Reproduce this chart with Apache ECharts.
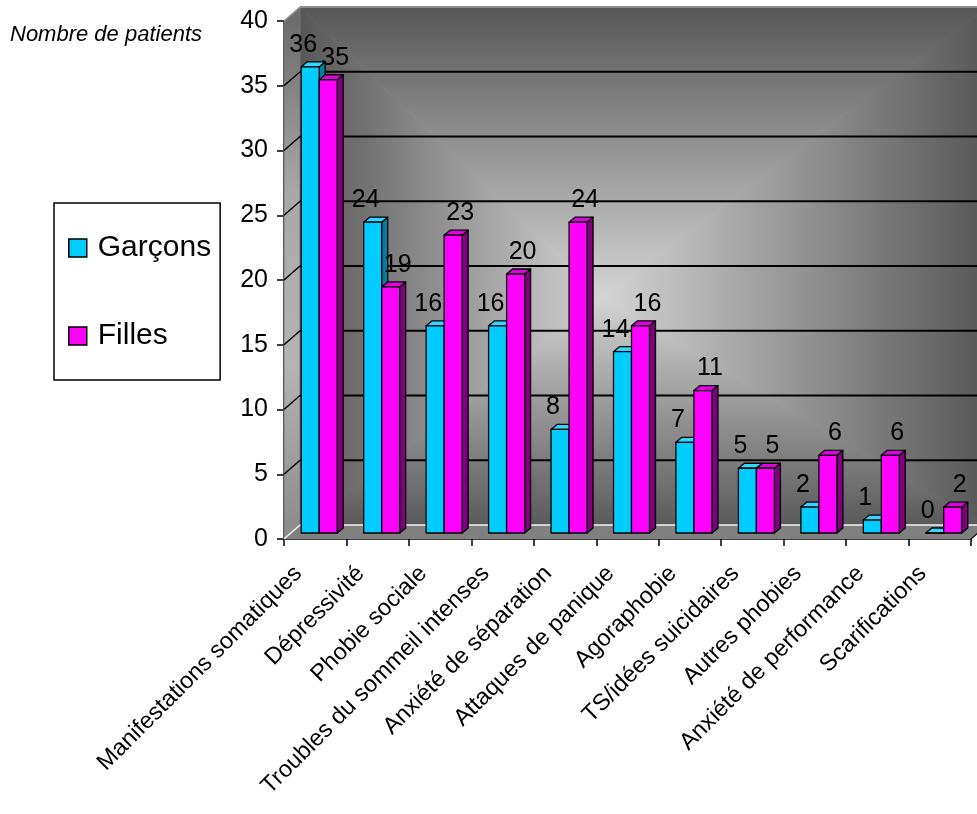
<!DOCTYPE html>
<html>
<head>
<meta charset="utf-8">
<title>Nombre de patients</title>
<script src="https://cdn.jsdelivr.net/npm/echarts@6/dist/echarts.min.js"></script>
<style>
  html, body { margin: 0; padding: 0; background: #fff; }
  #chart { width: 977px; height: 814px; }
</style>
</head>
<body>
<div id="chart"></div>
<script>
// Categories and counts per group
const categories = [
  'Manifestations somatiques', 'Dépressivité', 'Phobie sociale',
  'Troubles du sommeil intenses', 'Anxiété de séparation', 'Attaques de panique',
  'Agoraphobie', 'TS/idées suicidaires', 'Autres phobies',
  'Anxiété de performance', 'Scarifications'
];
const garcons = [36, 24, 16, 16, 8, 14, 7, 5, 2, 1, 0];
const filles = [35, 19, 23, 20, 24, 16, 11, 5, 6, 6, 2];
const yTicks = [0, 5, 10, 15, 20, 25, 30, 35, 40];
const seriesNames = ['Garçons', 'Filles'];

const FONT = '"Liberation Sans", Arial, sans-serif';

// Pseudo-3D geometry (pixels)
const WALL_DX = 16, WALL_DY = -14;   // back wall offset from the front plane
const BAR_DX = 4, BAR_DY = -6;       // bar front face offset from the front plane
const BAR_W = 18;                    // width of one bar face
const BAR_DEPTH_X = 6, BAR_DEPTH_Y = -5;

const COLORS = {
  garcons: { front: '#00ccff', top: '#33d6ff', side: '#007f9f' },
  filles: { front: '#ff00ff', top: '#e000e0', side: '#800080' }
};

function lin(x, y, x2, y2, stops) {
  return { type: 'linear', x: x, y: y, x2: x2, y2: y2, global: true,
    colorStops: stops.map(function (c, i) { return { offset: i / (stops.length - 1), color: c }; }) };
}

// Walls, floor and gridlines of the 3D box
function renderWalls(params, api) {
  const cs = params.coordSys;
  const x0 = cs.x, x1 = cs.x + cs.width, yT = cs.y, yB = cs.y + cs.height;
  const bx0 = x0 + WALL_DX, bx1 = x1 + WALL_DX, byT = yT + WALL_DY, byB = yB + WALL_DY;
  const cx = bx0 + 0.44 * (bx1 - bx0);
  const cy = byT + 0.56 * (byB - byT);
  const edge = '#575757', mid = '#d4d4d4';
  const children = [];
  const tri = function (pts, grad) {
    children.push({ type: 'polygon', shape: { points: pts },
      style: { fill: grad, stroke: grad, lineWidth: 1 } });
  };
  // back wall: gradient radiating from the centre toward each edge
  tri([[bx0, byT], [bx1, byT], [cx, cy]], lin(cx, byT, cx, cy, [edge, mid]));
  tri([[bx0, byB], [bx1, byB], [cx, cy]], lin(cx, byB, cx, cy, ['#5a5a5a', mid]));
  tri([[bx0, byT], [bx0, byB], [cx, cy]], lin(bx0, cy, cx, cy, [edge, mid]));
  tri([[bx1, byT], [bx1, byB], [cx, cy]], lin(bx1, cy, cx, cy, [edge, mid]));
  // left side wall
  children.push({ type: 'polygon', shape: { points: [[x0, yT], [bx0, byT], [bx0, byB], [x0, yB]] },
    style: { fill: lin(0, yT, 0, yB, ['#6c6c6c', '#a8a8a8', '#b4b4b4', '#8a8a8a']), stroke: '#777', lineWidth: 1 } });
  // floor
  children.push({ type: 'polygon', shape: { points: [[x0, yB], [bx0, byB], [bx1, byB], [x1, yB]] },
    style: { fill: '#808080' } });
  children.push({ type: 'line', shape: { x1: x1, y1: yB, x2: x1 + WALL_DX, y2: yB + WALL_DY },
    style: { stroke: '#000', lineWidth: 1.2 } });
  // gridlines on back wall and side wall
  yTicks.forEach(function (v) {
    const y = api.coord([0, v])[1];
    let col = '#000', w = 2;
    if (v === 0) { col = '#f4f4f4'; w = 1.5; }
    if (v === yTicks[yTicks.length - 1]) { col = '#8c8c8c'; w = 2; }
    children.push({ type: 'line', shape: { x1: bx0, y1: y + WALL_DY, x2: bx1, y2: y + WALL_DY },
      style: { stroke: col, lineWidth: w } });
    children.push({ type: 'line', shape: { x1: x0, y1: y, x2: bx0, y2: y + WALL_DY },
      style: { stroke: v === 0 ? '#f4f4f4' : (v === 40 ? '#9a9a9a' : '#000'), lineWidth: 1.5 } });
  });
  return { type: 'group', children: children };
}

// 3D bar: front face, top face, side face and value label
function barRenderer(side, col, labelShift) {
  return function (params, api) {
    const cat = api.value(0), val = api.value(1);
    const base = api.coord([cat, 0]);
    const top = api.coord([cat, val]);
    const x = base[0] + BAR_DX + (side < 0 ? -BAR_W : 0);
    const yb = base[1] + BAR_DY, yt = top[1] + BAR_DY;
    const dx = BAR_DEPTH_X, dy = BAR_DEPTH_Y;
    const stroke = { stroke: '#000', lineWidth: 1.3, lineJoin: 'round' };
    return {
      type: 'group',
      children: [
        { type: 'polygon', shape: { points: [[x + BAR_W, yt], [x + BAR_W + dx, yt + dy], [x + BAR_W + dx, yb + dy], [x + BAR_W, yb]] },
          style: Object.assign({ fill: col.side }, stroke) },
        { type: 'polygon', shape: { points: [[x, yt], [x + dx, yt + dy], [x + BAR_W + dx, yt + dy], [x + BAR_W, yt]] },
          style: Object.assign({ fill: col.top }, stroke) },
        { type: 'rect', shape: { x: x, y: yt, width: BAR_W, height: yb - yt },
          style: Object.assign({ fill: col.front }, stroke) },
        { type: 'text', style: { text: String(val), x: x + BAR_W / 2 + labelShift, y: yt + dy - 17,
            align: 'center', verticalAlign: 'middle', fontSize: 25, fontFamily: FONT, fill: '#000' } }
      ]
    };
  };
}

const chart = echarts.init(document.getElementById('chart'), null, { renderer: 'canvas' });

chart.setOption({
  backgroundColor: '#ffffff',
  animation: false,
  title: {
    text: 'Nombre de patients', left: 10, top: 24, padding: 0,
    textStyle: { fontStyle: 'italic', fontWeight: 'normal', fontSize: 22, color: '#000', fontFamily: FONT }
  },
  legend: {
    orient: 'vertical', left: 54, top: 203,
    padding: [30, 9, 29, 14],
    itemGap: 58, itemWidth: 18, itemHeight: 18,
    borderColor: '#000', borderWidth: 1.5, backgroundColor: '#fff',
    textStyle: { fontSize: 30, lineHeight: 30, color: '#000', fontFamily: FONT, padding: [0, 0, 0, 6] },
    data: [
      { name: seriesNames[0], icon: 'rect', itemStyle: { color: COLORS.garcons.front, borderColor: '#000', borderWidth: 1.5 } },
      { name: seriesNames[1], icon: 'rect', itemStyle: { color: COLORS.filles.front, borderColor: '#000', borderWidth: 1.5 } }
    ]
  },
  grid: { left: 284, right: 6, top: 21, bottom: 275, containLabel: false },
  xAxis: {
    type: 'category', data: categories, boundaryGap: true,
    axisLine: { lineStyle: { color: '#000', width: 1.5 } },
    axisTick: { show: true, length: 7, lineStyle: { color: '#000', width: 1.5 } },
    axisLabel: { interval: 0, rotate: 45, fontSize: 23.5, color: '#000', fontFamily: FONT, margin: 14, padding: [0, 24, 0, 0] },
    splitLine: { show: false }
  },
  yAxis: {
    type: 'value', min: 0, max: 40, interval: 5,
    axisLine: { show: true, lineStyle: { color: '#000', width: 1.5 } },
    axisTick: { show: true, length: 7, lineStyle: { color: '#000', width: 1.5 } },
    axisLabel: { fontSize: 25, color: '#000', fontFamily: FONT, margin: 16 },
    splitLine: { show: false }
  },
  series: [
    { type: 'custom', name: 'walls', renderItem: renderWalls, data: [[0, 0]], clip: false, z: 1, silent: true },
    { type: 'custom', name: seriesNames[0], renderItem: barRenderer(-1, COLORS.garcons, -7),
      itemStyle: { color: COLORS.garcons.front, borderColor: '#000', borderWidth: 1.5 },
      data: garcons.map(function (v, i) { return [i, v]; }), clip: false, z: 3 },
    { type: 'custom', name: seriesNames[1], renderItem: barRenderer(1, COLORS.filles, 7),
      itemStyle: { color: COLORS.filles.front, borderColor: '#000', borderWidth: 1.5 },
      data: filles.map(function (v, i) { return [i, v]; }), clip: false, z: 4 }
  ]
});
</script>
</body>
</html>
